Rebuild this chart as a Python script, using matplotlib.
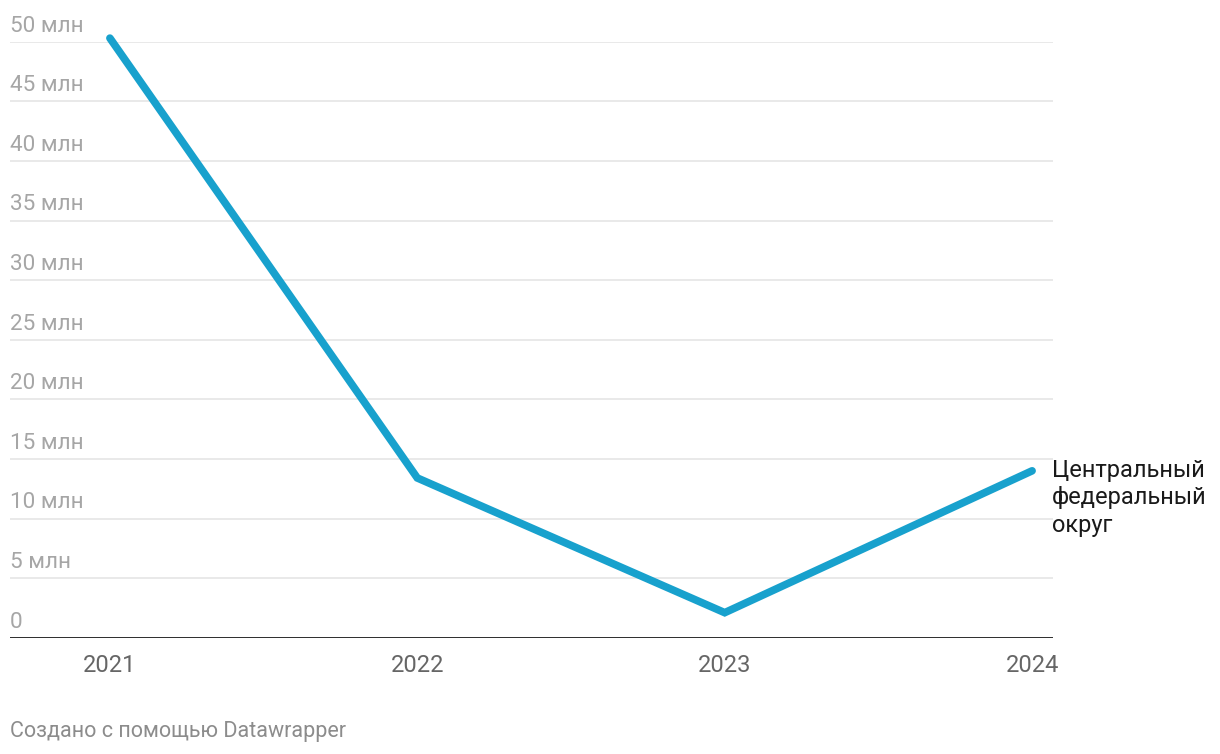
import matplotlib
matplotlib.use("Agg")
import matplotlib.pyplot as plt
import matplotlib.transforms as mtransforms

years = [2021, 2022, 2023, 2024]
values = [50.3, 13.4, 2.1, 14.0]
series_label = "Центральный\nфедеральный\nокруг"
y_ticks = [0, 5, 10, 15, 20, 25, 30, 35, 40, 45, 50]
y_tick_labels = ["0", "5 млн", "10 млн", "15 млн", "20 млн", "25 млн",
                 "30 млн", "35 млн", "40 млн", "45 млн", "50 млн"]
x_tick_labels = ["2021", "2022", "2023", "2024"]
footer = "Создано с помощью Datawrapper"

plt.rcParams['font.family'] = ['Roboto', 'DejaVu Sans']

W, H = 1220, 754
fig = plt.figure(figsize=(W / 100, H / 100), dpi=100)
left, right, top, bottom = 10, 1053, 41.7, 637.7
ax = fig.add_axes([left / W, 1 - bottom / H, (right - left) / W, (bottom - top) / H])

ax.set_xlim(2020.675, 2024.068)
ax.set_ylim(0, 50)

for v in y_ticks[1:]:
    ax.axhline(v, color="#e3e3e3", lw=1.1, zorder=1)
ax.axhline(0, color="#1a1a1a", lw=2.0, zorder=3)

ax.plot(years, values, color="#18a1cd", lw=5.5, solid_capstyle="round",
        solid_joinstyle="miter", clip_on=False, zorder=4)

trans = mtransforms.blended_transform_factory(ax.transAxes, ax.transData)
off = mtransforms.ScaledTranslation(0, 5 / 100, fig.dpi_scale_trans)
for v, lab in zip(y_ticks, y_tick_labels):
    ax.text(0, v, lab, transform=trans + off, ha="left", va="bottom",
            fontsize=16.2, color="#a6a6a6")

ax.set_xticks(years)
ax.set_xticklabels(x_tick_labels, fontsize=17, color="#666666")
ax.tick_params(axis="x", length=0, pad=12)
ax.set_yticks([])

ax.text(years[-1], values[-1], series_label, transform=ax.transData +
        mtransforms.ScaledTranslation(20 / 100, 12 / 100, fig.dpi_scale_trans),
        ha="left", va="top", fontsize=17, color="#1a1a1a", linespacing=1.25,
        clip_on=False)

for s in ax.spines.values():
    s.set_visible(False)

fig.text(10 / W, 1 - 732 / H, footer, ha="left", va="center",
         fontsize=15.5, color="#8c8c8c")

fig.savefig("out.png", dpi=100)
